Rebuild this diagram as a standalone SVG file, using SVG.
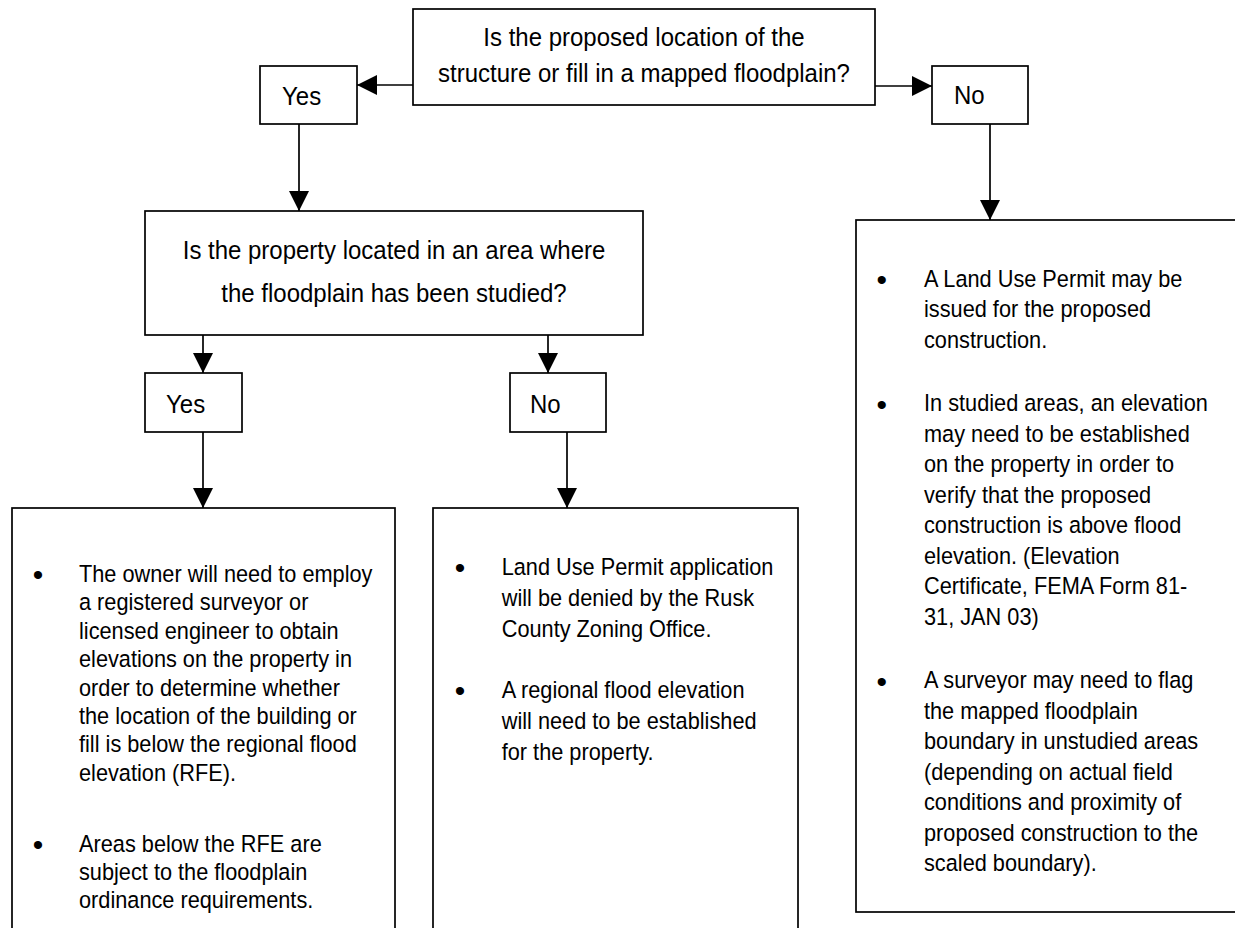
<svg xmlns="http://www.w3.org/2000/svg" width="1235" height="928" viewBox="0 0 1235 928">
<defs>
<style>
.t{font-family:"Liberation Sans",Arial,sans-serif;fill:#000;}
.big{font-size:26px;}
.body{font-size:23.5px;}
.bul{font-family:"Liberation Sans",Arial,sans-serif;font-size:30px;fill:#000;text-anchor:middle;}
.box{fill:#fff;stroke:#000;stroke-width:1.7;}
.conn{stroke:#000;stroke-width:1.7;fill:none;marker-end:url(#ah);}
</style>
<marker id="ah" markerUnits="userSpaceOnUse" markerWidth="20" markerHeight="20" refX="20" refY="10" orient="auto">
<path d="M0,0 L20,10 L0,20 Z" fill="#000"/>
</marker>
</defs>
<rect width="1235" height="928" fill="#fff"/>

<g id="q1">
<rect class="box" x="413" y="9" width="462" height="96"/>
<g transform="translate(644 0) scale(0.923 1)">
<text class="t big" text-anchor="middle"><tspan x="0" y="46.5">Is the proposed location of the</tspan><tspan x="0" y="82">structure or fill in a mapped floodplain?</tspan></text>
</g>
</g>

<g id="yes1">
<rect class="box" x="260" y="66" width="97" height="58"/>
<text class="t big" transform="translate(282 105) scale(0.923 1)">Yes</text>
</g>

<g id="no1">
<rect class="box" x="932" y="66" width="96" height="58"/>
<text class="t big" transform="translate(954 104) scale(0.923 1)">No</text>
</g>

<g id="q2">
<rect class="box" x="145" y="211" width="498" height="124"/>
<g transform="translate(394 0) scale(0.923 1)">
<text class="t big" text-anchor="middle"><tspan x="0" y="259">Is the property located in an area where</tspan><tspan x="0" y="302">the floodplain has been studied?</tspan></text>
</g>
</g>

<g id="yes2">
<rect class="box" x="145" y="373" width="97" height="59"/>
<text class="t big" transform="translate(166 413) scale(0.923 1)">Yes</text>
</g>

<g id="no2">
<rect class="box" x="510" y="373" width="96" height="59"/>
<text class="t big" transform="translate(530 413) scale(0.923 1)">No</text>
</g>

<g id="studiedYes">
<rect class="box" x="12" y="508" width="383" height="440"/>
<text class="bul"><tspan x="38" y="585">•</tspan><tspan x="38" y="854.7">•</tspan></text>
<g transform="translate(79 0) scale(0.925 1)">
<text class="t body"><tspan x="0" y="582">The owner will need to employ</tspan><tspan x="0" y="610.4">a registered surveyor or</tspan><tspan x="0" y="638.8">licensed engineer to obtain</tspan><tspan x="0" y="667.2">elevations on the property in</tspan><tspan x="0" y="695.6">order to determine whether</tspan><tspan x="0" y="724">the location of the building or</tspan><tspan x="0" y="752.4">fill is below the regional flood</tspan><tspan x="0" y="780.8">elevation (RFE).</tspan></text>
<text class="t body"><tspan x="0" y="851.7">Areas below the RFE are</tspan><tspan x="0" y="880.1">subject to the floodplain</tspan><tspan x="0" y="908.5">ordinance requirements.</tspan></text>
</g>
</g>

<g id="studiedNo">
<rect class="box" x="433" y="508" width="365" height="440"/>
<text class="bul"><tspan x="460" y="578">•</tspan><tspan x="460" y="701.3">•</tspan></text>
<g transform="translate(501.7 0) scale(0.925 1)">
<text class="t body"><tspan x="0" y="575">Land Use Permit application</tspan><tspan x="0" y="605.8">will be denied by the Rusk</tspan><tspan x="0" y="636.6">County Zoning Office.</tspan></text>
<text class="t body"><tspan x="0" y="698.3">A regional flood elevation</tspan><tspan x="0" y="729.1">will need to be established</tspan><tspan x="0" y="759.9">for the property.</tspan></text>
</g>
</g>

<g id="notMapped">
<rect class="box" x="856" y="220" width="420" height="692"/>
<text class="bul"><tspan x="881.7" y="290">•</tspan><tspan x="881.7" y="414.5">•</tspan><tspan x="881.7" y="691.5">•</tspan></text>
<g transform="translate(924 0) scale(0.925 1)">
<text class="t body"><tspan x="0" y="287">A Land Use Permit may be</tspan><tspan x="0" y="317.5">issued for the proposed</tspan><tspan x="0" y="348">construction.</tspan></text>
<text class="t body"><tspan x="0" y="411.5">In studied areas, an elevation</tspan><tspan x="0" y="442">may need to be established</tspan><tspan x="0" y="472.5">on the property in order to</tspan><tspan x="0" y="503">verify that the proposed</tspan><tspan x="0" y="533.5">construction is above flood</tspan><tspan x="0" y="564">elevation. (Elevation</tspan><tspan x="0" y="594.5">Certificate, FEMA Form 81-</tspan><tspan x="0" y="625">31, JAN 03)</tspan></text>
<text class="t body"><tspan x="0" y="688.5">A surveyor may need to flag</tspan><tspan x="0" y="719">the mapped floodplain</tspan><tspan x="0" y="749.5">boundary in unstudied areas</tspan><tspan x="0" y="780">(depending on actual field</tspan><tspan x="0" y="810.5">conditions and proximity of</tspan><tspan x="0" y="841">proposed construction to the</tspan><tspan x="0" y="871.5">scaled boundary).</tspan></text>
</g>
</g>

<g id="connectors">
<path class="conn" d="M413,85 H357"/>
<path class="conn" d="M875,86 H932"/>
<path class="conn" d="M299,124 V211"/>
<path class="conn" d="M990,124 V220"/>
<path class="conn" d="M203,335 V373"/>
<path class="conn" d="M548,335 V373"/>
<path class="conn" d="M203,432 V508"/>
<path class="conn" d="M567,432 V508"/>
</g>
</svg>
